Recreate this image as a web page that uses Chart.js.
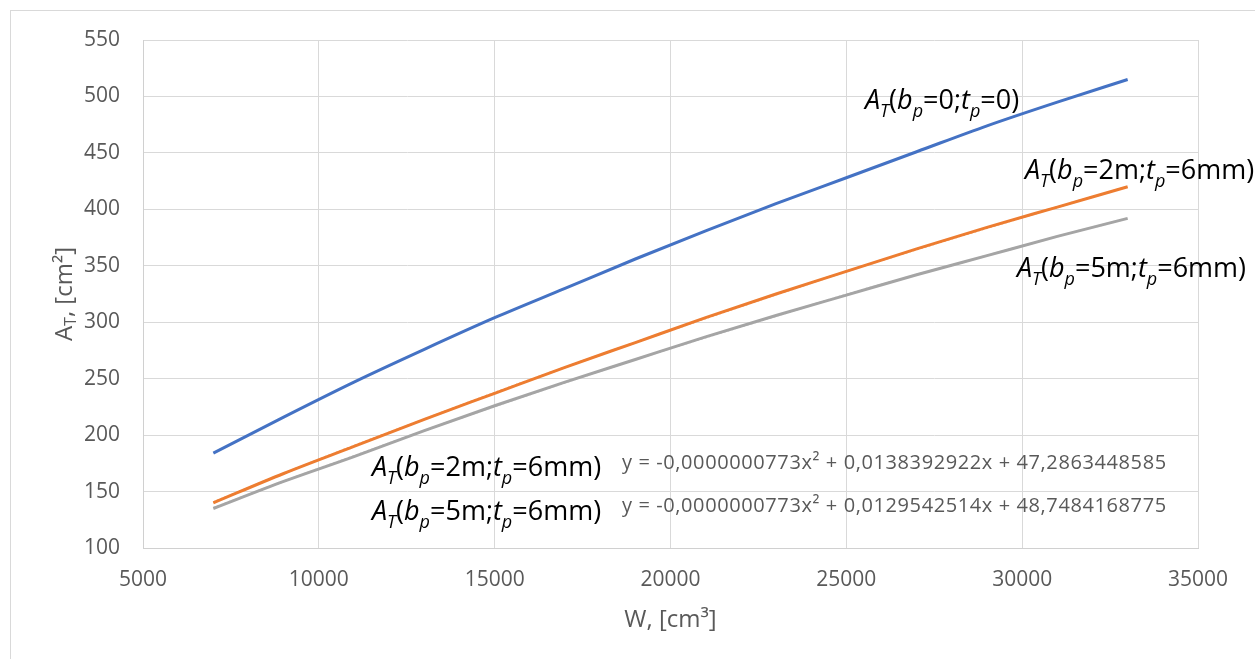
<!DOCTYPE html>
<html>
<head>
<meta charset="utf-8">
<script src="https://cdn.jsdelivr.net/npm/chart.js@4/dist/chart.umd.min.js"></script>
<style>
  html, body { margin: 0; padding: 0; background: #fff; overflow: hidden; }
  #frame { position: absolute; left: 10px; top: 10px; width: 1300px; height: 700px; border: 1px solid #d9d9d9; }
  #wrap { position: absolute; left: 0; top: 0; width: 1255px; height: 659px; }
</style>
</head>
<body>
<div id="frame"></div>
<div id="wrap"><canvas id="chart"></canvas></div>
<script>
// W, [cm3]
const wValues = [7000, 9000, 11000, 13000, 15000, 17000, 19000, 21000, 23000, 25000, 27000, 29000, 31000, 33000];
// A_T, [cm2]
const atPlain = [184, 216, 247, 276, 304, 330, 356, 381, 405, 428, 451, 474, 495, 515];
const at2m = [140, 166, 190, 214, 237, 260, 282, 304, 325, 345, 365, 384, 402, 420];
const at5m = [135, 159, 181, 204, 226, 247, 267, 287, 306, 324, 342, 359, 376, 392];
// polynomial trendlines
const trend2m = [140.5, 166, 190.5, 214, 237.5, 260, 282, 303.5, 324.5, 345, 364.5, 383.5, 402, 420];
const trend5m = [135.5, 159, 181.5, 204, 225.5, 246.5, 267, 286.5, 305.5, 324.5, 342, 359, 376, 392];

const xTicks = [5000, 10000, 15000, 20000, 25000, 30000, 35000];
const yTicks = [100, 150, 200, 250, 300, 350, 400, 450, 500, 550];

const eq2m = 'y = -0,0000000773x² + 0,0138392922x + 47,2863448585';
const eq5m = 'y = -0,0000000773x² + 0,0129542514x + 48,7484168775';

// label anchors in data coords [x, y]
const labels = [
  { at: [25530, 497], parts: [['A', 1], ['T', 1, 1], ['('], ['b', 1], ['p', 1, 1], ['=0;'], ['t', 1], ['p', 1, 1], ['=0)']] },
  { at: [30080, 435], parts: [['A', 1], ['T', 1, 1], ['('], ['b', 1], ['p', 1, 1], ['=2m;'], ['t', 1], ['p', 1, 1], ['=6mm)']] },
  { at: [29850, 348.5], parts: [['A', 1], ['T', 1, 1], ['('], ['b', 1], ['p', 1, 1], ['=5m;'], ['t', 1], ['p', 1, 1], ['=6mm)']] },
  { at: [11510, 172], parts: [['A', 1], ['T', 1, 1], ['('], ['b', 1], ['p', 1, 1], ['=2m;'], ['t', 1], ['p', 1, 1], ['=6mm)']] },
  { at: [11510, 133], parts: [['A', 1], ['T', 1, 1], ['('], ['b', 1], ['p', 1, 1], ['=5m;'], ['t', 1], ['p', 1, 1], ['=6mm)']] }
];
const eqLabels = [
  { at: [18620, 175], text: eq2m },
  { at: [18620, 137], text: eq5m }
];

const FONT = '"Open Sans", "Noto Sans", sans-serif';

function pts(ys) {
  return wValues.map((x, i) => ({ x: x, y: ys[i] }));
}

function drawRich(ctx, x, y, parts, size) {
  ctx.textBaseline = 'alphabetic';
  ctx.textAlign = 'left';
  let cx = x;
  for (const p of parts) {
    const sub = p[2];
    const fs = sub ? Math.round(size * 0.66) : size;
    ctx.font = (p[1] ? 'italic ' : '') + fs + 'px ' + FONT;
    ctx.fillText(p[0], cx, sub ? y + size * 0.28 : y);
    cx += ctx.measureText(p[0]).width;
  }
}

const textPlugin = {
  id: 'textPlugin',
  afterDraw(chart) {
    const ctx = chart.ctx;
    const xs = chart.scales.x, ys = chart.scales.y;
    const area = chart.chartArea;
    ctx.save();
    ctx.fillStyle = '#000';
    for (const l of labels) {
      drawRich(ctx, xs.getPixelForValue(l.at[0]), ys.getPixelForValue(l.at[1]) + 9.5, l.parts, 27);
    }
    ctx.fillStyle = '#595959';
    ctx.font = '20px ' + FONT;
    ctx.letterSpacing = '0.6px';
    ctx.textBaseline = 'middle';
    for (const e of eqLabels) {
      ctx.fillText(e.text, xs.getPixelForValue(e.at[0]), ys.getPixelForValue(e.at[1]));
    }
    ctx.letterSpacing = '0px';
    // axis titles
    ctx.fillStyle = '#595959';
    ctx.font = '24px ' + FONT;
    ctx.textAlign = 'center';
    ctx.textBaseline = 'alphabetic';
    ctx.fillText('W, [cm³]', (area.left + area.right) / 2, 627);
    ctx.save();
    ctx.translate(72, 294);
    ctx.rotate(-Math.PI / 2);
    ctx.textAlign = 'left';
    const t1 = 'A', t2 = 'T', t3 = ', [cm²]';
    ctx.font = '24px ' + FONT;
    const w1 = ctx.measureText(t1).width;
    const w3 = ctx.measureText(t3).width;
    ctx.font = '16px ' + FONT;
    const w2 = ctx.measureText(t2).width;
    const sx = -(w1 + w2 + w3) / 2;
    ctx.font = '24px ' + FONT;
    ctx.fillText(t1, sx, 0);
    ctx.font = '16px ' + FONT;
    ctx.fillText(t2, sx + w1, 4);
    ctx.font = '24px ' + FONT;
    ctx.fillText(t3, sx + w1 + w2, 0);
    ctx.restore();
    ctx.restore();
  }
};

const ctx = document.getElementById('chart').getContext('2d');
new Chart(ctx, {
  type: 'scatter',
  data: {
    datasets: [
      { label: 'AT(bp=0;tp=0)', data: pts(atPlain), borderColor: '#4472C4', borderWidth: 3 },
      { label: 'AT(bp=2m;tp=6mm)', data: pts(at2m), borderColor: '#ED7D31', borderWidth: 3 },
      { label: 'AT(bp=5m;tp=6mm)', data: pts(at5m), borderColor: '#A5A5A5', borderWidth: 3 },
      { label: 'trend 2m', data: pts(trend2m), borderColor: '#F4B183', borderWidth: 2, borderDash: [2, 2] },
      { label: 'trend 5m', data: pts(trend5m), borderColor: '#D0D0D0', borderWidth: 2, borderDash: [2, 2] }
    ].map(d => Object.assign(d, { showLine: true, pointRadius: 0, pointHoverRadius: 0, fill: false, cubicInterpolationMode: 'monotone' }))
  },
  options: {
    responsive: true,
    maintainAspectRatio: false,
    animation: false,
    layout: { padding: { left: 0, top: 40, right: 57, bottom: 0 } },
    plugins: { legend: { display: false }, tooltip: { enabled: false } },
    scales: {
      x: {
        type: 'linear',
        min: 5000,
        max: 35000,
        afterBuildTicks: s => { s.ticks = xTicks.map(v => ({ value: v })); },
        afterFit: s => { s.height = 111; },
        grid: { color: '#d9d9d9', lineWidth: 1, drawTicks: false },
        border: { color: '#d0d0d0', width: 1 },
        ticks: { color: '#595959', font: { family: FONT, size: 21 }, padding: 19, maxRotation: 0, callback: v => String(v) }
      },
      y: {
        min: 100,
        max: 550,
        afterBuildTicks: s => { s.ticks = yTicks.map(v => ({ value: v })); },
        afterFit: s => { s.width = 143; },
        grid: { color: '#d9d9d9', lineWidth: 1, drawTicks: false },
        border: { color: '#d0d0d0', width: 1 },
        ticks: { color: '#595959', font: { family: FONT, size: 21 }, padding: 23, callback: v => String(v) }
      }
    }
  },
  plugins: [textPlugin]
});
</script>
</body>
</html>
